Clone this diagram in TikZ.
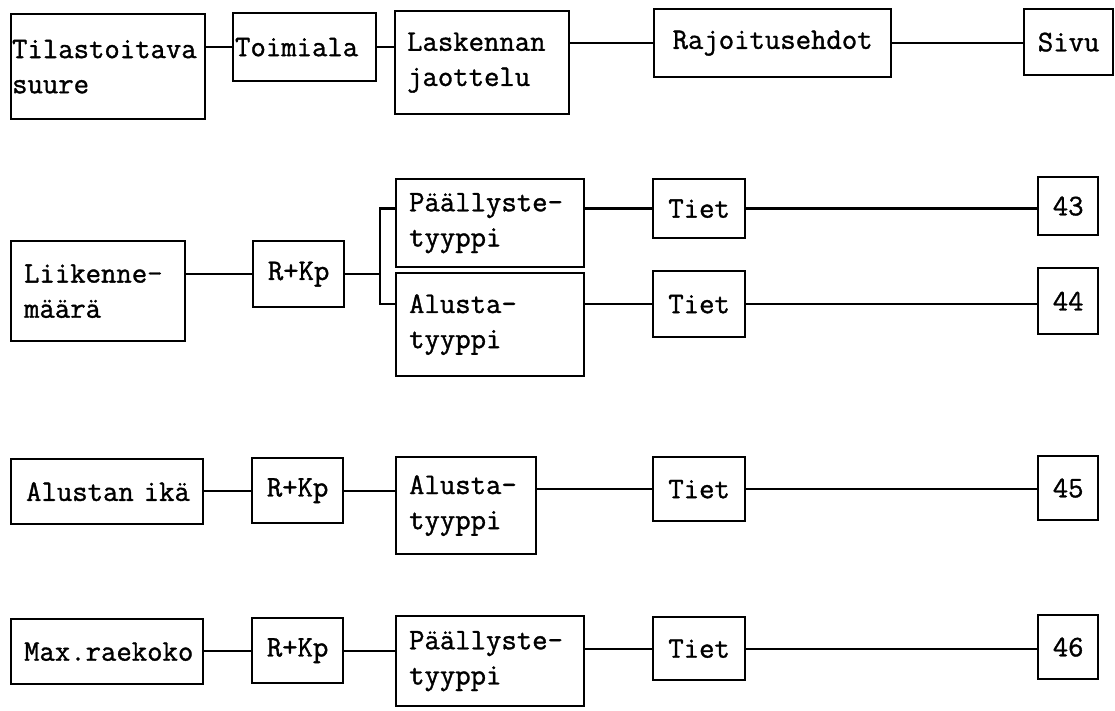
\documentclass[tikz,border=0pt]{standalone}
\usepackage{fontspec}
\setmonofont{Latin Modern Mono}[FakeBold=1.2]
\begin{document}
\begin{tikzpicture}[x = 0.02cm, y = -0.02cm, line width = 1.3pt,
    every node/.style = {shape = rectangle, anchor = north west},
    box/.style = {draw, inner sep = 0pt, font = \fontsize{17}{20}\selectfont\ttfamily},
    lbox/.style = {box, align = left},
    cbox/.style = {box, align = center}]
  \useasboundingbox (0,0) rectangle (1115,710);
  \node[lbox, text width = 3.84cm, inner xsep = 0.02cm, minimum height = 2.1cm](tila) at (10,13) {Tilastoitava\\suure};
  \node[lbox, text width = 2.78cm, inner xsep = 0.04cm, minimum height = 1.36cm](toim) at (232,12) {Toimiala};
  \node[lbox, text width = 3.0cm, inner xsep = 0.24cm, minimum height = 2.06cm](lask) at (394,10) {Laskennan\\jaottelu};
  \node[cbox, minimum width = 4.74cm, minimum height = 1.36cm](raj) at (653,8) {Rajoitusehdot};
  \node[cbox, minimum width = 1.78cm, minimum height = 1.32cm](sivu) at (1023,8) {Sivu};
  \node[lbox, text width = 2.96cm, inner xsep = 0.26cm, minimum height = 2.0cm](liik) at (10,240) {Liikenne-\\määrä};
  \node[cbox, minimum width = 1.82cm, minimum height = 1.32cm](rkp1) at (252,240) {R+Kp};
  \node[lbox, text width = 3.24cm, inner xsep = 0.26cm, minimum height = 1.76cm](paal1) at (395,178) {Päällyste-\\tyyppi};
  \node[lbox, text width = 3.24cm, inner xsep = 0.26cm, minimum height = 2.06cm](alus1) at (395,272) {Alusta-\\tyyppi};
  \node[cbox, minimum width = 1.84cm, minimum height = 1.18cm](tiet1) at (652,178) {Tiet};
  \node[cbox, minimum width = 1.84cm, minimum height = 1.32cm](tiet2) at (652,270) {Tiet};
  \node[cbox, minimum width = 1.2cm, minimum height = 1.16cm](n43) at (1037,176) {43};
  \node[cbox, minimum width = 1.2cm, minimum height = 1.32cm](n44) at (1037,267) {44};
  \node[lbox, text width = 3.24cm, inner xsep = 0.3cm, minimum height = 1.3cm](alik) at (10,458) {Alustan~ikä};
  \node[cbox, minimum width = 1.82cm, minimum height = 1.3cm](rkp2) at (251,457) {R+Kp};
  \node[lbox, text width = 2.28cm, inner xsep = 0.26cm, minimum height = 1.94cm](alus2) at (395,456) {Alusta-\\tyyppi};
  \node[cbox, minimum width = 1.84cm, minimum height = 1.28cm](tiet3) at (652,456) {Tiet};
  \node[cbox, minimum width = 1.2cm, minimum height = 1.28cm](n45) at (1037,455) {45};
  \node[lbox, text width = 3.32cm, inner xsep = 0.26cm, minimum height = 1.3cm](maxr) at (10,618) {Max.raekoko};
  \node[cbox, minimum width = 1.82cm, minimum height = 1.3cm](rkp3) at (251,617) {R+Kp};
  \node[lbox, text width = 3.24cm, inner xsep = 0.26cm, minimum height = 1.8cm](paal2) at (395,615) {Päällyste-\\tyyppi};
  \node[cbox, minimum width = 1.84cm, minimum height = 1.26cm](tiet4) at (652,616) {Tiet};
  \node[cbox, minimum width = 1.2cm, minimum height = 1.28cm](n46) at (1037,614) {46};
  \path (rkp1.east) ++(35,0) coordinate (fork);
  \draw (tila.east |- toim.west) -- (toim.west);
  \draw (toim.east) -- (lask.west |- toim.east);
  \draw (lask.east |- raj.west) -- (raj.west);
  \draw (raj.east) -- (sivu.west |- raj.east);
  \draw (liik.east |- rkp1.west) -- (rkp1.west);
  \draw (rkp1.east) -- (fork);
  \draw (paal1.west |- tiet1.west) -| (fork) |- (alus1.west |- tiet2.west);
  \draw (paal1.east |- tiet1.west) -- (tiet1.west);
  \draw (tiet1.east) -- (n43.west |- tiet1.east);
  \draw (alus1.east |- tiet2.west) -- (tiet2.west);
  \draw (tiet2.east) -- (n44.west |- tiet2.east);
  \draw (alik.east |- rkp2.west) -- (rkp2.west);
  \draw (rkp2.east) -- (alus2.west |- rkp2.east);
  \draw (alus2.east |- tiet3.west) -- (tiet3.west);
  \draw (tiet3.east) -- (n45.west |- tiet3.east);
  \draw (maxr.east |- rkp3.west) -- (rkp3.west);
  \draw (rkp3.east) -- (paal2.west |- rkp3.east);
  \draw (paal2.east |- tiet4.west) -- (tiet4.west);
  \draw (tiet4.east) -- (n46.west |- tiet4.east);
\end{tikzpicture}
\end{document}
